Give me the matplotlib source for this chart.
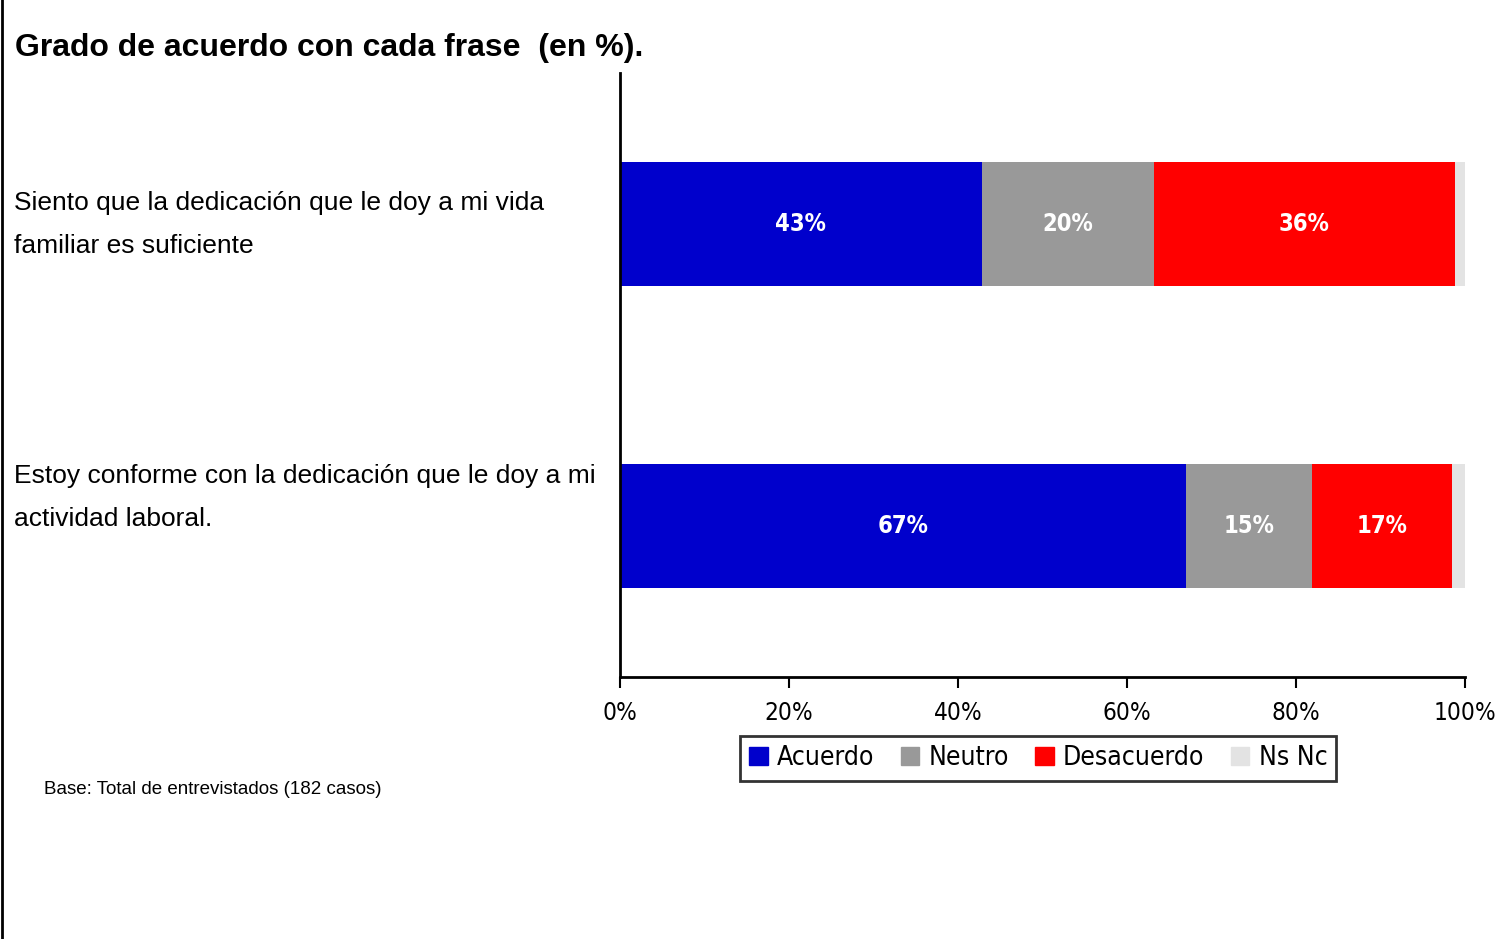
import matplotlib
matplotlib.use('Agg')
from matplotlib import pyplot as plt
from matplotlib.lines import Line2D
from matplotlib.patches import Patch
import numpy as np

plt.rcParams.update({'font.family': 'Liberation Sans', 'font.size': 12})

categories = ['Siento que la dedicación que le doy a mi vida\nfamiliar es suficiente',
              'Estoy conforme con la dedicación que le doy a mi\nactividad laboral.']
series = ['Acuerdo', 'Neutro', 'Desacuerdo', 'Ns Nc']
values = {
    'Acuerdo':    [42.8, 67.0],
    'Neutro':     [20.4, 14.9],
    'Desacuerdo': [35.6, 16.6],
    'Ns Nc':      [1.2, 1.5],
}
labels = {
    'Acuerdo':    ['43%', '67%'],
    'Neutro':     ['20%', '15%'],
    'Desacuerdo': ['36%', '17%'],
}
colors = ['#0000CC', '#999999', '#FF0000', '#E3E3E3']
ticks = [0, 20, 40, 60, 80, 100]
tick_labels = ['0%', '20%', '40%', '60%', '80%', '100%']

narrow = dict(family=['Liberation Sans Narrow', 'DejaVu Sans'], stretch='condensed')

fig = plt.figure(figsize=(14.97, 9.39), dpi=100)
ax = fig.add_axes([0.4142, 0.279, 0.5644, 0.6433])

ypos = [0.75, 0.25]
left = np.zeros(len(categories))
for s, c in zip(series, colors):
    v = np.array(values[s])
    ax.barh(ypos, v, left=left, height=0.204, color=c, label=s, linewidth=0)
    if s in labels:
        for y, l, w, t in zip(ypos, left, v, labels[s]):
            ax.text(l + w / 2, y, t, ha='center', va='center', color='white',
                    fontweight='bold', fontsize=17, **narrow)
    left += v

ax.set_xlim(0, 100)
ax.set_ylim(0, 1)
ax.set_yticks([])
ax.set_xticks(ticks)
ax.set_xticklabels(tick_labels, fontsize=17.5, **narrow)
ax.tick_params(axis='x', direction='out', length=8, width=1.5, pad=9)
for sp in ['top', 'right']:
    ax.spines[sp].set_visible(False)
ax.spines['left'].set_linewidth(2)
ax.spines['bottom'].set_linewidth(2)

# category labels at left
for cat, yfig in zip(categories, [0.761, 0.4706]):
    fig.text(0.0094, yfig, cat, ha='left', va='center', fontsize=19,
             linespacing=2.0)

fig.text(0.010, 0.949, 'Grado de acuerdo con cada frase  (en %).', fontsize=23,
         fontweight='bold', ha='left', va='center')
fig.text(0.0294, 0.159, 'Base: Total de entrevistados (182 casos)', fontsize=13.5,
         ha='left', va='center')

handles = [Patch(color=c, label=s) for s, c in zip(series, colors)]
leg = fig.legend(handles=handles, loc='center', bbox_to_anchor=(0.6936, 0.1923),
                 ncol=4, frameon=True, fancybox=False, edgecolor='black',
                 prop=dict(size=19, **narrow), handlelength=0.7,
                 handleheight=0.7, handletextpad=0.35, columnspacing=1.0,
                 borderpad=0.35, borderaxespad=0)
leg.get_frame().set_linewidth(2)

fig.add_artist(Line2D([0.0013, 0.0013], [0, 1], color='black', linewidth=2,
                      transform=fig.transFigure))

fig.savefig('out.png', dpi=100)
